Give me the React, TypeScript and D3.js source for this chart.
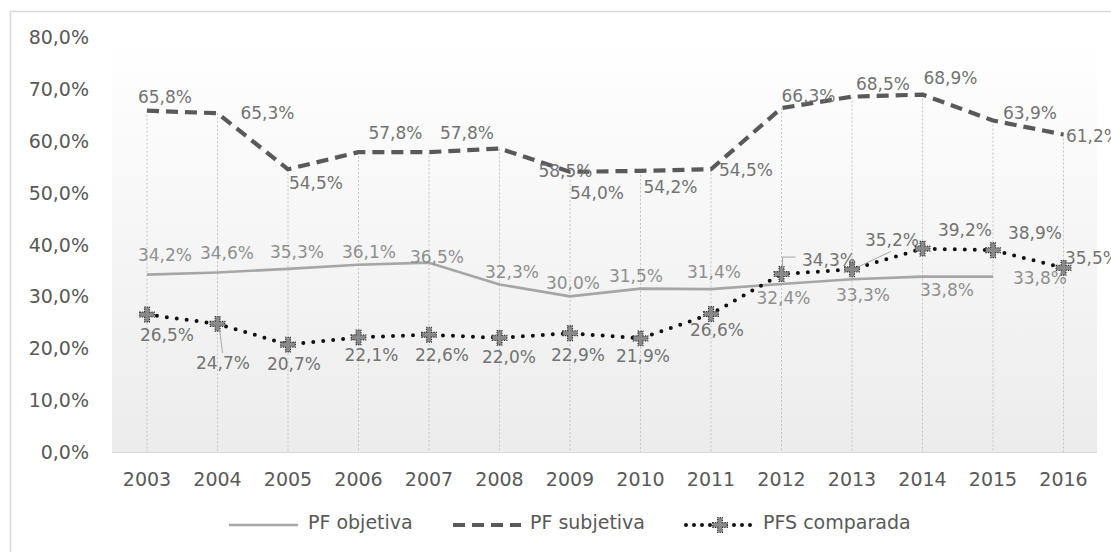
import React from "react";
import * as d3 from "d3";

const years = ["2003","2004","2005","2006","2007","2008","2009","2010","2011","2012","2013","2014","2015","2016"];
const pfObjetiva: (number | null)[] = [34.2,34.6,35.3,36.1,36.5,32.3,30.0,31.5,31.4,32.4,33.3,33.8,33.8,null];
const pfSubjetiva: number[] = [65.8,65.3,54.5,57.8,57.8,58.5,54.0,54.2,54.5,66.3,68.5,68.9,63.9,61.2];
const pfsComparada: number[] = [26.5,24.7,20.7,22.1,22.6,22.0,22.9,21.9,26.6,34.3,35.2,39.2,38.9,35.5];
const yTicks = [0,10,20,30,40,50,60,70,80];
const seriesNames = ["PF objetiva","PF subjetiva","PFS comparada"];

// label offsets (layout)
const offSub = [[18,-14],[50,0],[28,14],[37,-19],[38,-19],[66,22],[27,21],[30,16],[35,1],[27,-12],[31,-13],[28,-17],[37,-8],[29.5,1.5]];
const offObj = [[18,-20],[9.5,-20],[9,-17],[10.5,-13],[8,-6],[12.5,-12],[3,-13],[-4.5,-12.5],[3,-17],[2,14],[11,16],[24.5,13],[47,1],[0,0]];
const offCmp = [[20,20],[5.5,39],[6,19],[13,18],[13,20],[9.5,19],[8,22],[2.5,18],[6,16],[47.5,-14],[40,-29],[42.5,-18.6],[42,-17],[28.5,-10]];

const fmt = (v: number) => v.toFixed(1).replace(".", ",") + "%";
const FONT = "DejaVu Sans, Verdana, sans-serif";

export default function App() {
  const W = 1111, H = 552;
  const x = d3.scalePoint<string>().domain(years).range([147, 1063.5]);
  const y = d3.scaleLinear().domain([0, 80]).range([452, 37]);
  const plotL = 112, plotR = 1097;

  const lineGen = d3.line<number | null>()
    .defined((d) => d != null)
    .x((_, i) => x(years[i])!)
    .y((d) => y(d as number));

  const markerPath = d3.symbol().type(d3.symbolCross).size(120)()!;

  const labelColorDark = "#737373";
  const labelColorLight = "#8f8f8f";

  return (
    <svg width={W} height={H} style={{ display: "block", position: "absolute", left: 0, top: 0 }}>
      <defs>
        <linearGradient id="bg" x1="0" y1="0" x2="0" y2="1">
          <stop offset="0" stopColor="#ffffff" />
          <stop offset="1" stopColor="#ececec" />
        </linearGradient>
      </defs>
      <rect x={0} y={0} width={W} height={H} fill="#fff" />
      <rect x={10.5} y={11.5} width={1130} height={600} fill="#fff" stroke="#d9d9d9" strokeWidth={1.5} />
      <rect x={plotL} y={37} width={plotR - plotL} height={452 - 37} fill="url(#bg)" />

      {/* drop lines */}
      {years.map((yr, i) => {
        const vals = [pfObjetiva[i], pfSubjetiva[i], pfsComparada[i]].filter((v) => v != null) as number[];
        const m = d3.max(vals)!;
        return (
          <line key={"d" + yr} x1={x(yr)} x2={x(yr)} y1={y(m)} y2={452}
            stroke="#c4c4c4" strokeWidth={1} strokeDasharray="2,2" />
        );
      })}

      {/* x axis line */}
      <line x1={plotL} x2={plotR} y1={452.5} y2={452.5} stroke="#d9d9d9" strokeWidth={1.2} />

      {/* y tick labels */}
      {yTicks.map((t) => (
        <text key={"yt" + t} x={89} y={y(t)} textAnchor="end" dominantBaseline="central"
          fontFamily={FONT} fontSize={19} fill="#595959">{fmt(t)}</text>
      ))}
      {/* x tick labels */}
      {years.map((yr) => (
        <text key={"xt" + yr} x={x(yr)} y={479} textAnchor="middle" dominantBaseline="central"
          fontFamily={FONT} fontSize={19} fill="#595959">{yr}</text>
      ))}

      {/* lines */}
      <path d={lineGen(pfObjetiva)!} fill="none" stroke="#a6a6a6" strokeWidth={2.6} strokeLinejoin="round" />
      <path d={lineGen(pfSubjetiva)!} fill="none" stroke="#595959" strokeWidth={4.2} strokeDasharray="12,7" strokeLinejoin="round" />
      <path d={lineGen(pfsComparada)!} fill="none" stroke="#111" strokeWidth={4} strokeDasharray="0,10" strokeLinecap="round" strokeLinejoin="round" />

      {/* markers */}
      {pfsComparada.map((v, i) => (
        <path key={"m" + i} d={markerPath} transform={`translate(${x(years[i])},${y(v)})`}
          fill="#8a8a8a" stroke="#333" strokeWidth={1.2} strokeDasharray="1.2,1.2" />
      ))}

      {/* leader lines */}
      <line x1={x("2004")! + 2} y1={y(pfsComparada[1]) + 5} x2={x("2004")! + 5} y2={y(pfsComparada[1]) + 29}
        stroke="#a6a6a6" strokeWidth={1} />
      <polyline points={`${x("2012")! + 1},${y(pfsComparada[9]) - 6} ${x("2012")! + 1},${y(pfsComparada[9]) - 17} ${x("2012")! + 14},${y(pfsComparada[9]) - 17}`}
        fill="none" stroke="#a6a6a6" strokeWidth={1} />
      <line x1={x("2013")! + 5} y1={y(pfsComparada[10]) - 2} x2={x("2013")! + 39} y2={y(pfsComparada[10]) - 18}
        stroke="#a6a6a6" strokeWidth={1} />

      {/* data labels */}
      {pfSubjetiva.map((v, i) => (
        <text key={"ls" + i} x={x(years[i])! + offSub[i][0]} y={y(v) + offSub[i][1]} textAnchor="middle"
          dominantBaseline="central" fontFamily={FONT} fontSize={17} fill={labelColorDark}>{fmt(v)}</text>
      ))}
      {pfObjetiva.map((v, i) => v == null ? null : (
        <text key={"lo" + i} x={x(years[i])! + offObj[i][0]} y={y(v) + offObj[i][1]} textAnchor="middle"
          dominantBaseline="central" fontFamily={FONT} fontSize={17} fill={labelColorLight}>{fmt(v)}</text>
      ))}
      {pfsComparada.map((v, i) => (
        <text key={"lc" + i} x={x(years[i])! + offCmp[i][0]} y={y(v) + offCmp[i][1]} textAnchor="middle"
          dominantBaseline="central" fontFamily={FONT} fontSize={17} fill={labelColorDark}>{fmt(v)}</text>
      ))}

      {/* legend */}
      <line x1={229} x2={298} y1={525} y2={525} stroke="#a6a6a6" strokeWidth={2.6} />
      <text x={308} y={522} dominantBaseline="central" fontFamily={FONT} fontSize={19} fill="#595959">{seriesNames[0]}</text>
      <line x1={453} x2={521} y1={525} y2={525} stroke="#595959" strokeWidth={4.2} strokeDasharray="12,7" />
      <text x={530} y={522} dominantBaseline="central" fontFamily={FONT} fontSize={19} fill="#595959">{seriesNames[1]}</text>
      <line x1={686} x2={752} y1={525} y2={525} stroke="#111" strokeWidth={4} strokeDasharray="0,8" strokeLinecap="round" />
      <path d={markerPath} transform="translate(720,525)" fill="#8a8a8a" stroke="#333" strokeWidth={1.2} strokeDasharray="1.2,1.2" />
      <text x={763} y={522} dominantBaseline="central" fontFamily={FONT} fontSize={19} fill="#595959">{seriesNames[2]}</text>
    </svg>
  );
}
